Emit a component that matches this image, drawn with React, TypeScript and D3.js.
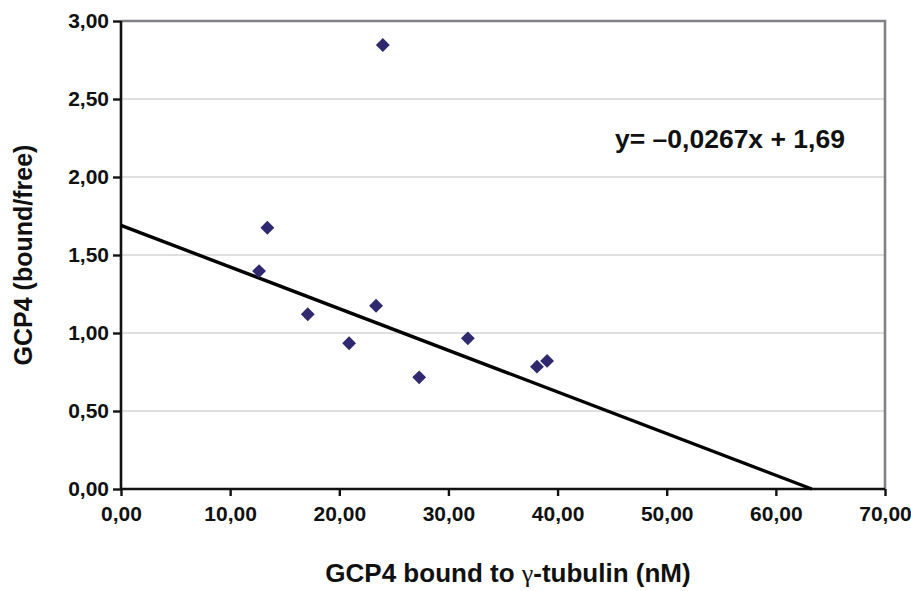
import React, { useEffect, useRef } from "react";
import * as d3 from "d3";

// GCP4 bound to gamma-tubulin (nM) vs bound/free ratio
const boundValues = [12.65, 13.41, 17.11, 20.9, 23.37, 23.99, 27.32, 31.78, 38.11, 39.04];
const ratioValues = [1.397, 1.675, 1.12, 0.934, 1.175, 2.846, 0.716, 0.966, 0.784, 0.821];
const xTicks = [0, 10, 20, 30, 40, 50, 60, 70];
const yTicks = [0, 0.5, 1, 1.5, 2, 2.5, 3];
const trendSlope = [-0.0267];
const trendIntercept = [1.69];

const fmt = (v: number, n = 2) => v.toFixed(n).replace(".", ",");

const App = () => {
  const chartRef = useRef<SVGSVGElement>(null);

  useEffect(() => {
    const width = 911, height = 591;
    const m = { left: 121, right: 885, top: 21, bottom: 489 };
    const font = "'Liberation Sans', Arial, sans-serif";

    const svg = d3.select(chartRef.current)
      .attr("width", width)
      .attr("height", height);

    svg.selectAll("*").remove(); // Clear previous elements

    const x = d3.scaleLinear().domain([0, 70]).range([m.left, m.right]);
    const y = d3.scaleLinear().domain([0, 3]).range([m.bottom, m.top]);

    // gridlines
    svg.append("g")
      .selectAll("line")
      .data(yTicks.filter(t => t > 0 && t < 3))
      .enter()
      .append("line")
      .attr("x1", m.left).attr("x2", m.right)
      .attr("y1", d => y(d)).attr("y2", d => y(d))
      .attr("stroke", "#d4d4d4")
      .attr("stroke-width", 1.5);

    // top & right frame
    svg.append("path")
      .attr("d", `M${m.left},${m.top}H${m.right}V${m.bottom}`)
      .attr("fill", "none")
      .attr("stroke", "#818187")
      .attr("stroke-width", 2.6);

    const yAxis = svg.append("g")
      .attr("transform", `translate(${m.left},0)`)
      .call(d3.axisLeft(y).tickValues(yTicks).tickSize(8).tickPadding(4).tickFormat(d => fmt(+d)));
    const xAxis = svg.append("g")
      .attr("transform", `translate(0,${m.bottom})`)
      .call(d3.axisBottom(x).tickValues(xTicks).tickSize(7).tickPadding(10).tickFormat(d => fmt(+d)));

    [yAxis, xAxis].forEach(a => {
      a.select(".domain").attr("stroke", "#111").attr("stroke-width", 2.6);
      a.selectAll(".tick line").attr("stroke", "#111").attr("stroke-width", 2.4);
      a.selectAll(".tick text")
        .attr("fill", "#111")
        .style("font-family", font)
        .style("font-weight", "bold")
        .style("font-size", "21px");
    });
    xAxis.select(".domain").attr("d", `M${m.left},0H${m.right}`);
    yAxis.select(".domain").attr("d", `M0,${m.bottom}V${m.top}`);

    // trend line
    const xEnd = -trendIntercept[0] / trendSlope[0];
    svg.append("line")
      .attr("x1", x(0)).attr("y1", y(trendIntercept[0]))
      .attr("x2", x(xEnd)).attr("y2", y(0))
      .attr("stroke", "#000")
      .attr("stroke-width", 3.4);

    // points
    const diamond = d3.symbol().type(d3.symbolSquare).size(96);
    svg.append("g")
      .selectAll("path")
      .data(boundValues.map((b, i) => [b, ratioValues[i]]))
      .enter()
      .append("path")
      .attr("d", diamond)
      .attr("transform", d => `translate(${x(d[0])},${y(d[1])}) rotate(45)`)
      .attr("fill", "#2f2a6f");

    // equation
    svg.append("text")
      .attr("x", 615).attr("y", 148)
      .style("font-family", font)
      .style("font-weight", "bold")
      .style("font-size", "26.5px")
      .attr("fill", "#111")
      .text(`y= \u2013${fmt(Math.abs(trendSlope[0]), 4)}x + ${fmt(trendIntercept[0])}`);

    // x title
    const xt = svg.append("text")
      .attr("x", 508).attr("y", 582)
      .attr("text-anchor", "middle")
      .style("font-family", font)
      .style("font-weight", "bold")
      .style("font-size", "26px")
      .attr("fill", "#111");
    xt.append("tspan").text("GCP4 bound to ");
    xt.append("tspan").style("font-family", "'Liberation Serif', serif").style("font-weight", "normal").text("\u03b3");
    xt.append("tspan").text("-tubulin (nM)");

    // y title
    svg.append("text")
      .attr("transform", `translate(32,${(m.top + m.bottom) / 2}) rotate(-90)`)
      .attr("text-anchor", "middle")
      .style("font-family", font)
      .style("font-weight", "bold")
      .style("font-size", "25px")
      .attr("fill", "#111")
      .text("GCP4 (bound/free)");
  }, []);

  return (
    <div style={{ position: "absolute", left: 0, top: 0 }}>
      <svg ref={chartRef}></svg>
    </div>
  );
};

export default App;
